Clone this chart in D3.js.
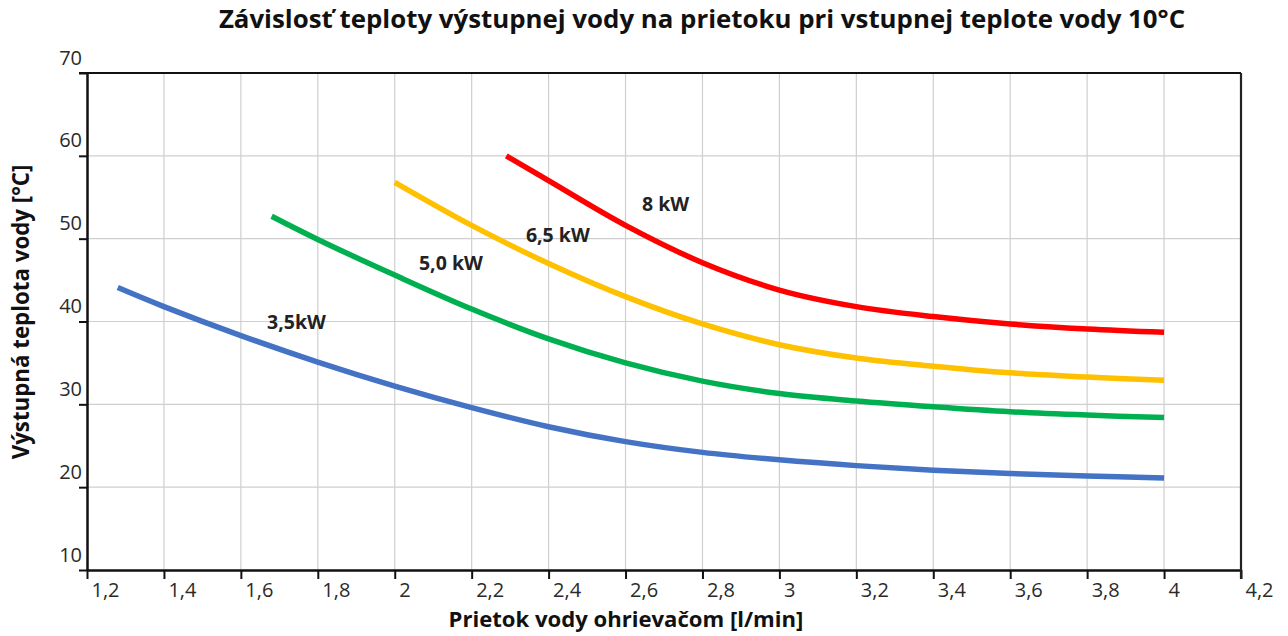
<!DOCTYPE html>
<html>
<head>
<meta charset="utf-8">
<script src="https://cdn.jsdelivr.net/npm/d3@7"></script>
<style>
  body { margin: 0; background: #fff; }
  text { font-family: "Open Sans", "Noto Sans", sans-serif; }
</style>
</head>
<body>
<svg id="chart" width="1288" height="636"></svg>
<script>
// data
var xTicks = [1.2, 1.4, 1.6, 1.8, 2.0, 2.2, 2.4, 2.6, 2.8, 3.0, 3.2, 3.4, 3.6, 3.8, 4.0, 4.2];
var yTicks = [10, 20, 30, 40, 50, 60, 70];

var flow35 = [1.28, 1.4, 1.6, 1.8, 2.0, 2.2, 2.4, 2.6, 2.8, 3.0, 3.2, 3.4, 3.6, 3.8, 4.0];
var temp35 = [44.1, 41.8, 38.3, 35.1, 32.2, 29.6, 27.3, 25.5, 24.2, 23.3, 22.6, 22.05, 21.65, 21.35, 21.1];

var flow50 = [1.68, 1.8, 2.0, 2.2, 2.4, 2.6, 2.8, 3.0, 3.2, 3.4, 3.6, 3.8, 4.0];
var temp50 = [52.7, 49.9, 45.6, 41.5, 37.9, 35.0, 32.8, 31.3, 30.4, 29.7, 29.1, 28.7, 28.4];

var flow65 = [2.0, 2.2, 2.4, 2.6, 2.8, 3.0, 3.2, 3.4, 3.6, 3.8, 4.0];
var temp65 = [56.8, 51.6, 47.0, 43.0, 39.7, 37.2, 35.6, 34.6, 33.8, 33.3, 32.9];

var flow80 = [2.29, 2.4, 2.6, 2.8, 3.0, 3.2, 3.4, 3.6, 3.8, 4.0];
var temp80 = [60.0, 57.0, 51.6, 47.1, 43.8, 41.8, 40.6, 39.7, 39.1, 38.7];

var seriesNames = ["3,5kW", "5,0 kW", "6,5 kW", "8 kW"];
var seriesColors = ["#4472c4", "#00b050", "#ffc000", "#ff0000"];
// where each curve label sits (flow, temperature)
var labelFlow = [1.668, 2.063, 2.341, 2.643];
var labelTemp = [39.1, 46.2, 49.6, 53.3];

var svg = d3.select("#chart"),
    margin = {top: 73, right: 47, bottom: 66, left: 87},
    width = +svg.attr("width") - margin.left - margin.right,
    height = +svg.attr("height") - margin.top - margin.bottom;

var x = d3.scaleLinear().domain([1.2, 4.2]).range([margin.left, margin.left + width]);
var y = d3.scaleLinear().domain([10, 70]).range([margin.top + height, margin.top]);

var fmt = function(d) { return String(+d.toFixed(1)).replace(".", ","); };

// grid
svg.append("g").selectAll("line.vg")
  .data(xTicks.slice(1, -1))
  .enter().append("line")
    .attr("x1", function(d) { return x(d); })
    .attr("x2", function(d) { return x(d); })
    .attr("y1", y(70)).attr("y2", y(10))
    .attr("stroke", "#cfcfcf").attr("stroke-width", 1.2);

svg.append("g").selectAll("line.hg")
  .data(yTicks.slice(1, -1))
  .enter().append("line")
    .attr("x1", x(1.2)).attr("x2", x(4.2))
    .attr("y1", function(d) { return y(d); })
    .attr("y2", function(d) { return y(d); })
    .attr("stroke", "#cfcfcf").attr("stroke-width", 1.2);

// axes
var xAxis = svg.append("g")
  .attr("transform", "translate(0," + y(10) + ")")
  .call(d3.axisBottom(x).tickValues(xTicks).tickFormat(fmt).tickSize(9).tickSizeOuter(0));
xAxis.select(".domain").attr("stroke", "#111").attr("stroke-width", 2.5);
xAxis.selectAll(".tick line").attr("stroke", "#111").attr("stroke-width", 2);
xAxis.selectAll(".tick text")
  .attr("text-anchor", "start").attr("dx", 4).attr("y", 13)
  .attr("font-size", 20).attr("fill", "#2a2a2a")
  .style("font-family", "'Open Sans', sans-serif");

var yAxis = svg.append("g")
  .attr("transform", "translate(" + x(1.2) + ",0)")
  .call(d3.axisLeft(y).tickValues(yTicks).tickFormat(fmt).tickSize(8).tickSizeOuter(0));
yAxis.select(".domain").attr("stroke", "#111").attr("stroke-width", 2.5);
yAxis.selectAll(".tick line").attr("stroke", "#111").attr("stroke-width", 2);
yAxis.selectAll(".tick text")
  .attr("x", -5).attr("dy", -9)
  .attr("font-size", 20).attr("fill", "#2a2a2a")
  .style("font-family", "'Open Sans', sans-serif");

// top and right border
svg.append("line")
  .attr("x1", x(1.2) - 8).attr("x2", x(4.2))
  .attr("y1", y(70)).attr("y2", y(70))
  .attr("stroke", "#111").attr("stroke-width", 2.2);
svg.append("line")
  .attr("x1", x(4.2)).attr("x2", x(4.2))
  .attr("y1", y(70)).attr("y2", y(10) + 9)
  .attr("stroke", "#222").attr("stroke-width", 2.2);

// curves
var line = d3.line()
  .x(function(d) { return x(d[0]); })
  .y(function(d) { return y(d[1]); })
  .curve(d3.curveCatmullRom.alpha(0.5));

var flows = [flow35, flow50, flow65, flow80],
    temps = [temp35, temp50, temp65, temp80];

var series = flows.map(function(f, i) {
  return f.map(function(v, j) { return [v, temps[i][j]]; });
});

svg.append("g").selectAll("path")
  .data(series)
  .enter().append("path")
    .attr("d", line)
    .attr("fill", "none")
    .attr("stroke", function(d, i) { return seriesColors[i]; })
    .attr("stroke-width", 5.5);

svg.append("g").selectAll("text")
  .data(seriesNames)
  .enter().append("text")
    .attr("x", function(d, i) { return x(labelFlow[i]); })
    .attr("y", function(d, i) { return y(labelTemp[i]); })
    .attr("font-size", 19.5).attr("font-weight", "bold").attr("fill", "#222")
    .text(function(d) { return d; });

// titles
function fit(sel, w) {
  var n = sel.node(), fs = +sel.attr("font-size");
  sel.attr("font-size", fs * w / n.getComputedTextLength());
}

var title = svg.append("text")
  .attr("x", 702).attr("y", 28)
  .attr("text-anchor", "middle")
  .attr("font-size", 22).attr("font-weight", "bold").attr("fill", "#111")
  .text("Závislosť teploty výstupnej vody na prietoku pri vstupnej teplote vody 10°C");
fit(title, 967);

var xTitle = svg.append("text")
  .attr("x", 626).attr("y", 627)
  .attr("text-anchor", "middle")
  .attr("font-size", 17).attr("font-weight", "bold").attr("fill", "#111")
  .text("Prietok vody ohrievačom [l/min]");
fit(xTitle, 355);

var yTitle = svg.append("text")
  .attr("transform", "translate(29,312) rotate(-90)")
  .attr("text-anchor", "middle")
  .attr("font-size", 17).attr("font-weight", "bold").attr("fill", "#111")
  .text("Výstupná teplota vody [°C]");
fit(yTitle, 295);
</script>
</body>
</html>
